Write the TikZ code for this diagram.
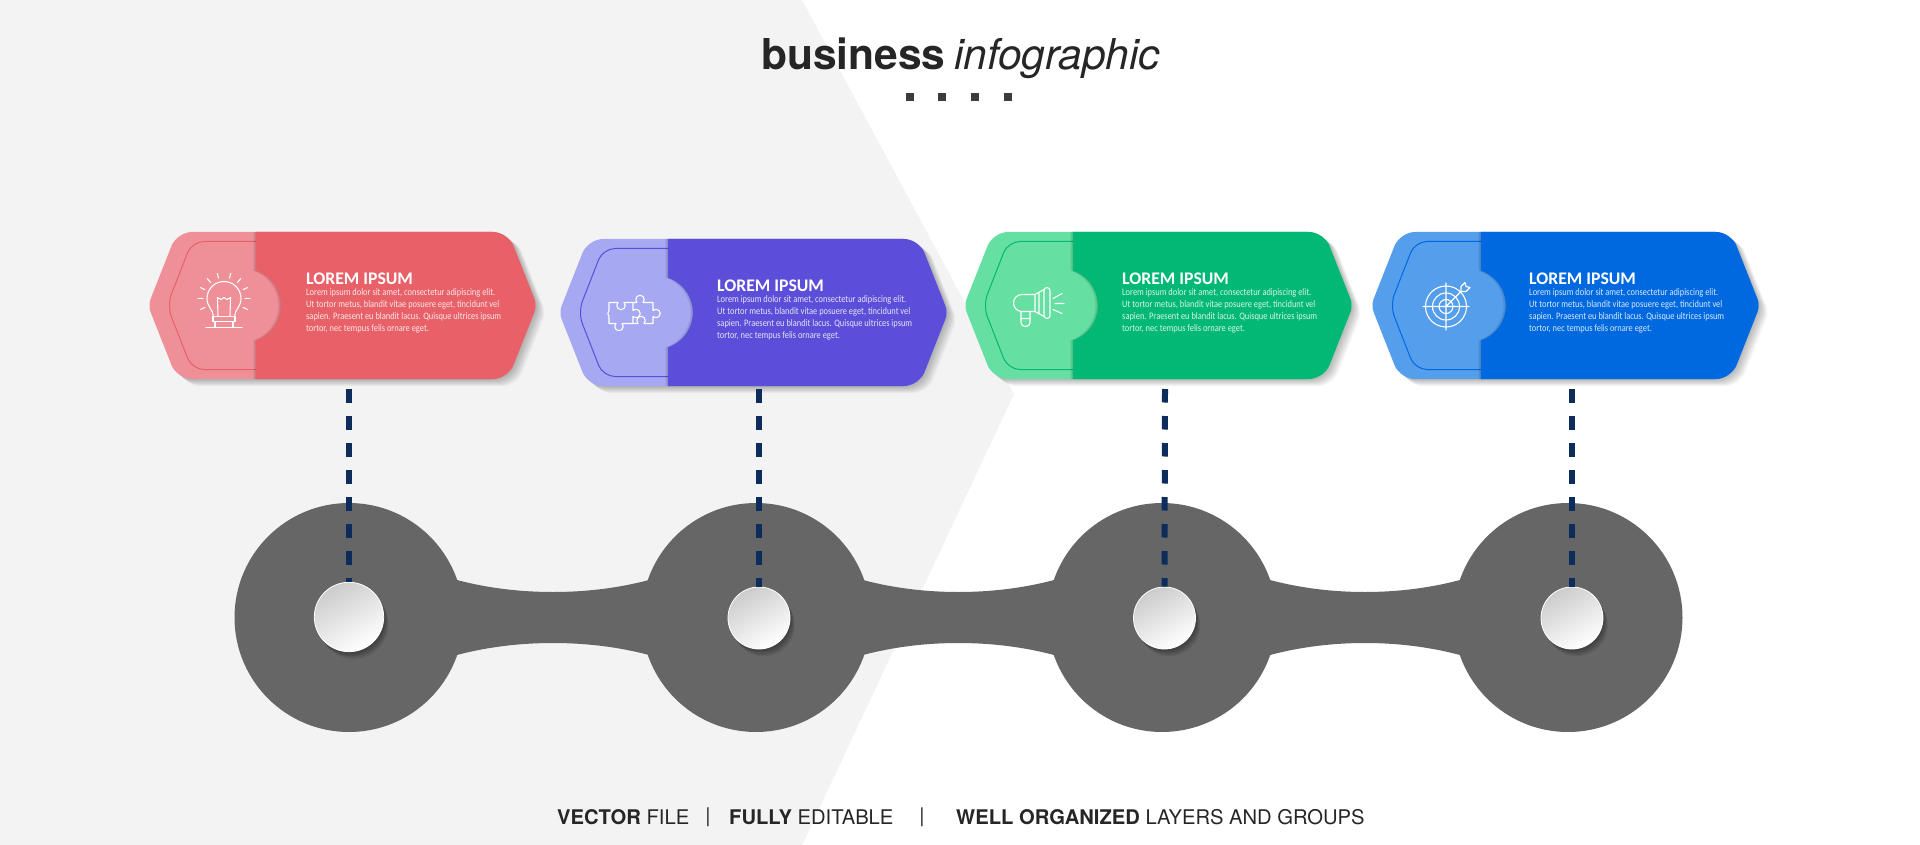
\documentclass[tikz,border=0pt]{standalone}
\usepackage{fontspec}
\setmainfont{TeX Gyre Heros}
\newfontfamily\headfont{Carlito}
\newfontfamily\cardfont[FakeStretch=0.85]{Carlito}
\usetikzlibrary{positioning, calc}
\definecolor{bgsoft}{HTML}{F3F3F3}
\definecolor{blobgray}{HTML}{666666}
\definecolor{stemblue}{HTML}{0C2C5C}
\definecolor{inkdark}{HTML}{262626}
\definecolor{redmain}{HTML}{E86168}
\definecolor{redsoft}{HTML}{EF8F97}
\definecolor{violetmain}{HTML}{5B4ED8}
\definecolor{violetsoft}{HTML}{A6A8F2}
\definecolor{greenmain}{HTML}{02B875}
\definecolor{greensoft}{HTML}{66DFA2}
\definecolor{bluemain}{HTML}{0069E0}
\definecolor{bluesoft}{HTML}{559EEB}
\tikzset{
    lobe/.style={circle, fill=blobgray, inner sep=0, minimum size=229pt},
    hole/.style={circle, draw=white, line width=0.8pt, inner sep=0, top color=black!20, bottom color=white, shading angle=30},
    stemline/.style={stemblue, line width=6pt, dash pattern=on 13.5pt off 13.5pt},
    cardhead/.style={font=\headfont\bfseries\fontsize{17.7}{18}\selectfont, text=white, inner sep=0},
    cardbody/.style={font=\cardfont\fontsize{9.9}{10}\selectfont, text=white, text opacity=0.85, inner sep=0, align=left},
    iconline/.style={white, line width=1.1pt, line join=round, line cap=round},
    dotsq/.style={fill=inkdark!90, inner sep=0, minimum size=8.5pt},
    foottext/.style={font=\fontsize{20.2}{24}\selectfont, text=inkdark, inner sep=0}
}
% outline of a whole card
\newcommand{\cardpath}{
    (100,-73.5) [rounded corners=15pt] -- (29,-73.5) [rounded corners=7pt] -- (0,0) [rounded corners=15pt] -- (29,73.5)
    -- (360,73.5) [rounded corners=7pt] -- (389,0) [rounded corners=15pt] -- (360,-73.5) -- cycle
}
% right part of a card, with the bite for the round tab
\newcommand{\mainpath}{
    (\sx,-73.5) [rounded corners=15pt] -- (360,-73.5) [rounded corners=7pt] -- (389,0) [rounded corners=15pt] -- (360,73.5)
    [sharp corners] -- (\sx,73.5) -- (\sx,34.8) arc[start angle=71, end angle=-71, radius=36.8] -- cycle
}
% icons, drawn round their own centre
\newcommand{\iconbulb}{
    \draw[iconline] (-10.5,13) .. controls (-11,6) and (-17,3) .. (-17,-5) arc[start angle=180, end angle=360, radius=17] .. controls (17,3) and (11,6) .. (10.5,13);
    \draw[iconline] (-6,13) -- (-6.5,-6) -- (-3,-4) -- (0,-6) -- (3,-4) -- (6.5,-6) -- (6,13);
    \draw[iconline] (-11,13) rectangle (11,18) (-9,18) rectangle (9,24) (-18,24) -- (18,24);
    \foreach \a in {-205,-180,-155,-130,-105,-75,-50,-25,0,25}
        \draw[iconline] ($(0,-5)+(\a:21)$) -- ($(0,-5)+(\a:26)$);
}
\newcommand{\iconpuzzle}{
    \draw[iconline] (0,-11) -- (4,-11) arc[start angle=135, end angle=405, radius=4.24] -- (20,-11) -- (20,-3)
        arc[start angle=225, end angle=495, radius=4.24] -- (20,10) -- (11,10)
        arc[start angle=45, end angle=-225, radius=4.24] -- (0,10) -- (0,3)
        arc[start angle=135, end angle=-135, radius=4.24] -- cycle;
    \draw[iconline] (0,-11) -- (-9,-11) arc[start angle=-45, end angle=225, radius=4.24] -- (-24,-11) -- (-24,-3)
        arc[start angle=225, end angle=135, radius=4.24] -- (-24,10) -- (-17,10)
        arc[start angle=225, end angle=-45, radius=4.24] -- (0,10);
}
\newcommand{\iconhorn}{
    \draw[iconline] (-4,-12) -- (-17,-12) arc[start angle=270, end angle=90, radius=8.5] -- (-4,5) -- cycle;
    \draw[iconline] (-4,-12) -- (5,-17) (-4,5) -- (5,10) (0,-14) -- (0,7);
    \draw[iconline, rounded corners=3pt] (5,-19) rectangle (11,12);
    \draw[iconline, rounded corners=4pt] (-18,5) -- (-18,20) -- (-9,20) -- (-9,6);
    \draw[iconline] (-18,12) -- (-9,12) (14,-8) -- (23,-13) (16,-3) -- (25,-3) (14,3) -- (23,7);
}
\newcommand{\icontarget}{
    \draw[iconline] (0,0) circle[radius=7] (0,0) circle[radius=13.5] (0,0) circle[radius=20.5];
    \draw[iconline] (-23,0) -- (23,0) (0,-23.5) -- (0,23.5) (0,0) -- (15,-15);
    \draw[iconline] (15,-15) -- (15,-20) -- (19,-24) -- (20,-20) -- (24,-19) -- (20,-15) -- cycle;
}
\begin{document}
\begin{tikzpicture}[x=1pt, y=-1pt]
    \useasboundingbox (0,0) rectangle (1920,845);
    \fill[white] (0,0) rectangle (1920,845);
    \fill[bgsoft] (0,0) -- (802,0) -- (1014,394) -- (802,845) -- (0,845) -- cycle;

    % title
    \node[anchor=base west, inner sep=0, text=inkdark, font=\bfseries\fontsize{42.5}{46}\selectfont] (titlebold) at (761,70) {business};
    \node[anchor=base west, inner sep=0, text=inkdark, font=\itshape\fontsize{42.5}{46}\selectfont] (titlelight) at (954,70) {infographic};
    \foreach \i/\x in {1/910, 2/942, 3/975, 4/1008}
        \node[dotsq] (sq\i) at (\x,97) {};

    % the gray chain
    \foreach \i/\x in {1/349, 2/756, 3/1162, 4/1568}
        \node[lobe] (lobe\i) at (\x,617.5) {};
    \foreach \a/\b in {457/649, 863/1054, 1270/1460}
        \fill[blobgray] (\a-3,579) -- (\a,580) .. controls (\a+60,596) and (\b-60,596) .. (\b,580) -- (\b+3,579) -- (\b+3,656)
            -- (\b,655) .. controls (\b-60,639) and (\a+60,639) .. (\a,655) -- (\a-3,656) -- cycle;
    \foreach \i/\x/\y/\r in {1/349/617/34.7, 2/759/618/31, 3/1164.5/618/31, 4/1572/618/31}{
        \foreach \s in {1,...,6}
            \fill[black, opacity=0.07] (\x+\s*0.8,\y+\s*1.2) circle[radius=\r];
        \node[hole, minimum size=2*\r*1pt] (hole\i) at (\x,\y) {};
    }

    % the cards
    \foreach \i/\cx/\cy/\sx/\main/\soft/\icon/\ix/\iy in {
        1/148/305.5/108/redmain/redsoft/\iconbulb/76/-2,
        2/559/312.5/109/violetmain/violetsoft/\iconpuzzle/74/1,
        3/964/305.5/109/greenmain/greensoft/\iconhorn/75/1,
        4/1371/305.5/110/bluemain/bluesoft/\icontarget/75/1}{
    \begin{scope}[shift={(\cx,\cy)}]
        \foreach \s in {1,...,8}
            \fill[black, opacity=0.035, shift={(\s*1.1,\s*0.9)}] \cardpath;
        \fill[\soft] \cardpath;
        \draw[\main, line width=1pt, rounded corners=12pt] (\sx,-64) -- (44,-64) -- (19,0) -- (44,64) -- (\sx,64);
        \foreach \s in {1,2,3}
            \fill[black, opacity=0.05, shift={(-\s*0.9,0)}] \mainpath;
        \fill[\main] \mainpath;
        \begin{scope}[shift={(\ix,\iy)}]
            \icon
        \end{scope}
        \node[cardhead, anchor=base west] (head\i) at (158,-21.5) {LOREM IPSUM};
        \node[cardbody, below=4pt of head\i.south west, anchor=north west] (body\i) {Lorem ipsum dolor sit amet, consectetur adipiscing elit.\\[2pt]
            Ut tortor metus, blandit vitae posuere eget, tincidunt vel\\[2pt]
            sapien. Praesent eu blandit lacus. Quisque ultrices ipsum\\[2pt]
            tortor, nec tempus felis ornare eget.};
    \end{scope}
    }

    % dashed stems
    \coordinate (stem1) at (349,389);
    \coordinate (stem2) at (759,389);
    \coordinate (stem3) at (1165,389);
    \coordinate (stem4) at (1572,389);
    \foreach \i in {1,...,4}
        \draw[stemline] (stem\i) -- (hole\i.north);

    % footer
    \node[foottext, anchor=west] (foota) at (557,817) {\textbf{VECTOR} FILE};
    \node[foottext, anchor=center] (barone) at (708,817) {|};
    \node[foottext, anchor=west] (footb) at (729,817) {\textbf{FULLY} EDITABLE};
    \node[foottext, anchor=center] (bartwo) at (922,817) {|};
    \node[foottext, anchor=west] (footc) at (956,817) {\textbf{WELL ORGANIZED} LAYERS AND GROUPS};
\end{tikzpicture}
\end{document}
